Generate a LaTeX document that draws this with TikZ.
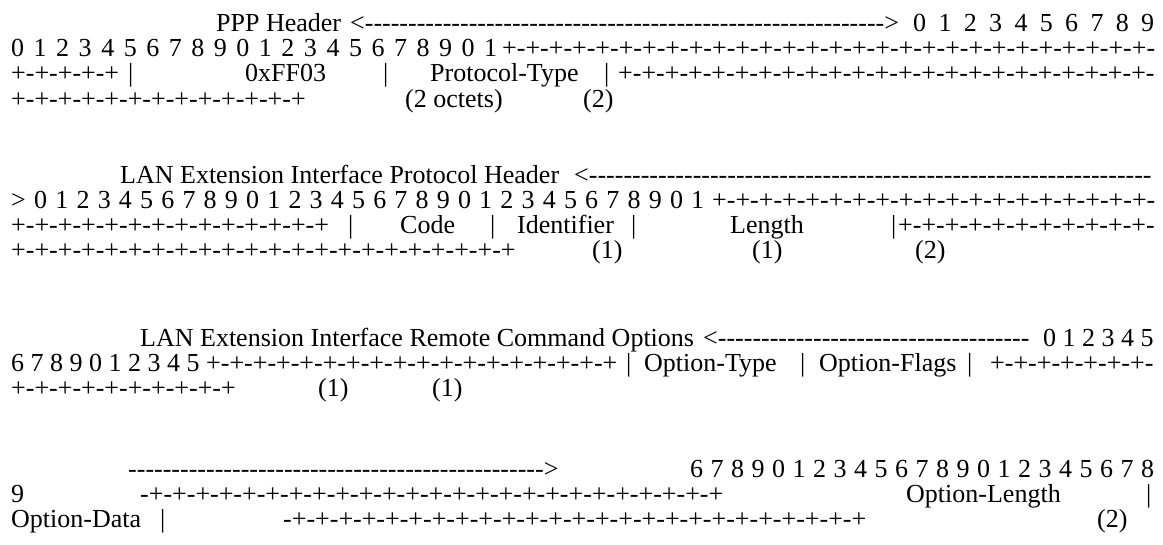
\documentclass[tikz,border=0pt]{standalone}
\usepackage{fontspec}
\usepackage{tikz}
\newfontfamily\rfcfont{Liberation Serif}

% repeat a piece of text, and a justified run of bit numbers
\newcommand\rep[2]{\foreach\i in {1,...,#1}{#2}}
\newcommand\bits[2]{\makebox[#1pt][s]{#2}}

\tikzset{
	txt/.style={anchor=base west, inner sep=0pt, font=\rfcfont\fontsize{26}{30}\selectfont},
}

\begin{document}
\begin{tikzpicture}[x=1pt, y=-1pt]
	\useasboundingbox (0,0) rectangle (1163,544);
	
	% PPP header
	\node[txt] (pppTitle) at (216,31) {PPP Header};
	\node[txt] (pppArrow) at (350,31) {<\rep{60}{-}>};
	\node[txt] (pppBitsA) at (913,31) {\bits{241}{0 1 2 3 4 5 6 7 8 9}};
	\node[txt] (pppBitsB) at (11,56) {\bits{486}{0 1 2 3 4 5 6 7 8 9 0 1 2 3 4 5 6 7 8 9 0 1}};
	\node[txt] (pppRuleA) at (502,56) {\rep{28}{+-}};
	\node[txt] (pppRuleB) at (11,81.5) {\rep{4}{+-}+};
	\node[txt] (pppBarA) at (128,81.5) {|};
	\node[txt] (pppAddr) at (245,81.5) {0xFF03};
	\node[txt] (pppBarB) at (383,81.5) {|};
	\node[txt] (pppProto) at (430,81.5) {Protocol-Type};
	\node[txt] (pppBarC) at (604,81.5) {|};
	\node[txt] (pppRuleC) at (618,81.5) {\rep{23}{+-}};
	\node[txt] (pppRuleD) at (11,107) {\rep{12}{+-}+};
	\node[txt] (pppSizeA) at (405,107) {(2 octets)};
	\node[txt] (pppSizeB) at (583,107) {(2)};
	
	% LAN extension interface protocol header
	\node[txt] (lanTitle) at (120,183) {LAN Extension Interface Protocol Header};
	\node[txt] (lanArrowA) at (574,183) {<\rep{65}{-}};
	\node[txt] (lanArrowB) at (11,208) {>};
	\node[txt] (lanBits) at (34,208) {\bits{670}{0 1 2 3 4 5 6 7 8 9 0 1 2 3 4 5 6 7 8 9 0 1 2 3 4 5 6 7 8 9 0 1}};
	\node[txt] (lanRuleA) at (712,208) {\rep{19}{+-}};
	\node[txt] (lanRuleB) at (11,233) {\rep{13}{+-}+};
	\node[txt] (lanBarA) at (348,233) {|};
	\node[txt] (lanCode) at (400,233) {Code};
	\node[txt] (lanBarB) at (490,233) {|};
	\node[txt] (lanIdent) at (517,233) {Identifier};
	\node[txt] (lanBarC) at (631,233) {|};
	\node[txt] (lanLen) at (730,233) {Length};
	\node[txt] (lanBarD) at (891,233) {|};
	\node[txt] (lanRuleC) at (898,233) {\rep{11}{+-}};
	\node[txt] (lanRuleD) at (11,258) {\rep{21}{+-}+};
	\node[txt] (lanSizeA) at (592,258) {(1)};
	\node[txt] (lanSizeB) at (752,258) {(1)};
	\node[txt] (lanSizeC) at (915,258) {(2)};
	
	% remote command options
	\node[txt] (optTitle) at (140,346) {LAN Extension Interface Remote Command Options};
	\node[txt] (optArrowA) at (703,346) {<\rep{36}{-}};
	\node[txt] (optBitsA) at (1043,346) {0 1 2 3 4 5};
	\node[txt] (optBitsB) at (11,371) {6 7 8 9 0 1 2 3 4 5};
	\node[txt] (optRuleA) at (206,371) {\rep{17}{+-}+};
	\node[txt] (optBarA) at (626,371) {|};
	\node[txt] (optType) at (644,371) {Option-Type};
	\node[txt] (optBarB) at (800,371) {|};
	\node[txt] (optFlags) at (819,371) {Option-Flags};
	\node[txt] (optBarC) at (967,371) {|};
	\node[txt] (optRuleB) at (990,371) {\rep{7}{+-}};
	\node[txt] (optRuleC) at (11,396) {\rep{9}{+-}+};
	\node[txt] (optSizeA) at (318,396) {(1)};
	\node[txt] (optSizeB) at (432,396) {(1)};
	
	\node[txt] (optArrowB) at (128,477) {\rep{48}{-}>};
	\node[txt] (optBitsC) at (690,477) {\bits{464}{6 7 8 9 0 1 2 3 4 5 6 7 8 9 0 1 2 3 4 5 6 7 8}};
	\node[txt] (optBitsD) at (11,502) {9};
	\node[txt] (optRuleD) at (140,502) {\rep{25}{-+}};
	\node[txt] (optLen) at (906,502) {Option-Length};
	\node[txt] (optBarD) at (1146,502) {|};
	\node[txt] (optData) at (11,527) {Option-Data};
	\node[txt] (optBarE) at (160,527) {|};
	\node[txt] (optRuleE) at (283,527) {\rep{25}{-+}};
	\node[txt] (optSizeC) at (1097,527) {(2)};
\end{tikzpicture}
\end{document}
